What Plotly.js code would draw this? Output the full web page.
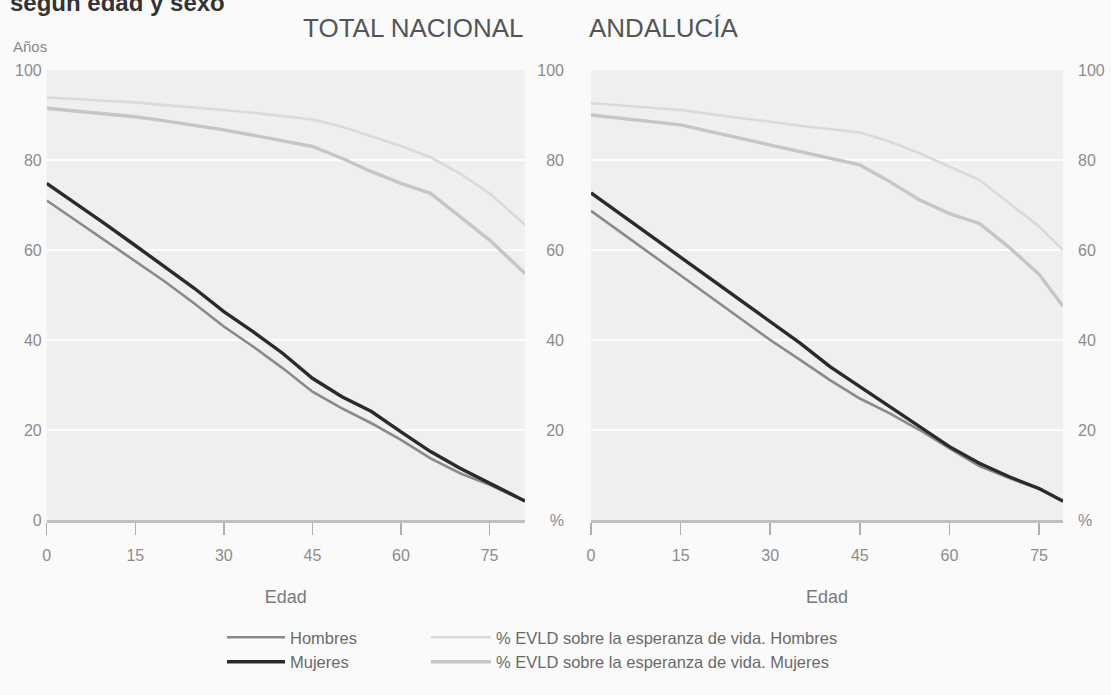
<!DOCTYPE html>
<html>
<head>
<meta charset="utf-8">
<script src="https://cdn.plot.ly/plotly-3.0.1.min.js"></script>
<style>html,body{margin:0;padding:0;background:#fafafa;}#chart{width:1111px;height:695px;}</style>
</head>
<body>
<div id="chart"></div>
<script>
// Ages (x values)
const agesNac = [0,5,10,15,20,25,30,35,40,45,50,55,60,65,70,75,81];
const agesAnd = [0,5,10,15,20,25,30,35,40,45,50,55,60,65,70,75,79];

// TOTAL NACIONAL
const nacHombres    = [71.0,66.5,62.1,57.4,53.0,48.1,43.0,38.5,33.7,28.5,24.8,21.5,17.8,13.7,10.4,7.8,4.2];
const nacMujeres    = [74.8,70.3,65.7,61.0,56.3,51.5,46.3,41.8,37.0,31.5,27.4,24.1,19.6,15.2,11.5,8.1,4.2];
const nacPctHombres = [93.9,93.5,93.2,92.8,92.2,91.7,91.1,90.5,89.8,89.0,87.4,85.2,83.1,80.6,77.0,72.6,65.6];
const nacPctMujeres = [91.5,90.9,90.2,89.6,88.7,87.7,86.7,85.5,84.3,83.0,80.4,77.4,74.8,72.6,67.4,62.2,54.8];

// ANDALUCÍA
const andHombres    = [68.7,63.9,59.0,54.2,49.4,44.6,40.0,35.6,31.1,27.0,23.7,20.0,15.9,12.0,9.3,6.9,4.1];
const andMujeres    = [72.7,67.9,63.1,58.3,53.5,48.7,44.1,39.3,34.1,29.6,25.2,20.7,16.3,12.6,9.6,7.0,4.2];
const andPctHombres = [92.6,92.1,91.6,91.1,90.2,89.4,88.5,87.6,86.8,86.1,84.1,81.5,78.5,75.6,70.4,65.2,60.0];
const andPctMujeres = [90.0,89.3,88.5,87.8,86.3,84.8,83.3,81.8,80.4,78.9,75.2,71.1,68.1,65.9,60.6,54.6,47.5];

// Tick labels
const xTicks = [0,15,30,45,60,75];
const yTicks = [0,20,40,60,80,100];
const yTextLeft = ['0','20','40','60','80','100'];
const yTextPct = ['%','20','40','60','80','100'];

const names = {
  h: 'Hombres',
  m: 'Mujeres',
  ph: '% EVLD sobre la esperanza de vida. Hombres',
  pm: '% EVLD sobre la esperanza de vida. Mujeres'
};

const FONT = '"Liberation Sans", Arial, sans-serif';
const styles = {
  h:  {color:'#8a8a8a', width:2.6},
  m:  {color:'#2a2a2a', width:3.4},
  ph: {color:'#dadada', width:2.6},
  pm: {color:'#c6c6c6', width:3.4}
};

function tr(x, y, key, xa, ya, show, legend) {
  return {
    type:'scatter', mode:'lines', x:x, y:y, name:names[key],
    xaxis:xa, yaxis:ya, line:Object.assign({}, styles[key]),
    legendgroup:key, showlegend:show, legend:legend, hoverinfo:'x+y'
  };
}

const data = [
  tr(agesNac, nacPctHombres, 'ph', 'x', 'y', true, 'legend2'),
  tr(agesNac, nacPctMujeres, 'pm', 'x', 'y', true, 'legend2'),
  tr(agesNac, nacHombres, 'h', 'x', 'y', true, 'legend'),
  tr(agesNac, nacMujeres, 'm', 'x', 'y', true, 'legend'),
  tr(agesAnd, andPctHombres, 'ph', 'x2', 'y3', false, 'legend2'),
  tr(agesAnd, andPctMujeres, 'pm', 'x2', 'y3', false, 'legend2'),
  tr(agesAnd, andHombres, 'h', 'x2', 'y2', false, 'legend'),
  tr(agesAnd, andMujeres, 'm', 'x2', 'y2', false, 'legend')
];

const W = 1111, H = 695;
const yDom = [(H-520)/H, (H-70)/H];
const tickFont = {family:FONT, size:16, color:'#8c8c8c'};

function xaxis(dom, rng, anchor) {
  return {
    domain:dom, range:rng, anchor:anchor, tickvals:xTicks,
    ticks:'outside', ticklen:12, tickwidth:1.5, tickcolor:'#b0b0b0',
    showline:true, linecolor:'#c0c0c0', linewidth:3,
    showgrid:false, zeroline:false, tickfont:tickFont, ticklabelstandoff:7,
    title:{text:'Edad', font:{family:FONT, size:18, color:'#7a7a7a'}, standoff:28},
    fixedrange:true
  };
}
function yaxis(anchor, text, standoff, size) {
  return {
    domain:yDom, range:[0,100], anchor:anchor, tickvals:yTicks, ticktext:text,
    showgrid:true, gridcolor:'#fcfcfc', gridwidth:2, zeroline:false, showline:false,
    ticks:'', tickfont:{family:FONT, size:size, color:'#8c8c8c'}, ticklabelstandoff:standoff, fixedrange:true
  };
}

const legendBase = {yanchor:'top', xanchor:'left', bgcolor:'rgba(0,0,0,0)',
  font:{family:FONT, size:16.5, color:'#6a6a6a'}, traceorder:'grouped', tracegroupgap:0};

const layout = {
  width:W, height:H,
  margin:{l:0, r:0, t:0, b:0},
  paper_bgcolor:'#fafafa', plot_bgcolor:'#efefef',
  font:{family:FONT, color:'#777'},
  xaxis: xaxis([46.7/W, 525/W], [0,81], 'y'),
  yaxis: yaxis('x', yTextLeft, 4, 16),
  xaxis2: xaxis([591/W, 1063/W], [0,79], 'y2'),
  yaxis2: yaxis('x2', yTextPct, 26, 16),
  yaxis3: Object.assign(yaxis('x2', yTextPct, 14, 16), {overlaying:'y2', side:'right', showgrid:false}),
  legend: Object.assign({x:222/W, y:(H-620)/H, itemwidth:58}, legendBase),
  legend2: Object.assign({x:426/W, y:(H-620)/H, itemwidth:60}, legendBase),
  showlegend:true,
  annotations:[
    {text:'<b>según edad y sexo</b>', xref:'paper', yref:'paper', x:8/W, y:1, xanchor:'left', yanchor:'middle', yshift:-2,
     showarrow:false, font:{family:FONT, size:24, color:'#333'}},
    {text:'Años', xref:'paper', yref:'paper', x:11/W, y:(H-46)/H, xanchor:'left', yanchor:'middle',
     showarrow:false, font:{family:FONT, size:15, color:'#888'}},
    {text:'TOTAL NACIONAL', xref:'paper', yref:'paper', x:526/W, y:(H-28)/H, xanchor:'right', yanchor:'middle',
     showarrow:false, font:{family:FONT, size:26, color:'#555'}},
    {text:'ANDALUCÍA', xref:'paper', yref:'paper', x:587/W, y:(H-28)/H, xanchor:'left', yanchor:'middle',
     showarrow:false, font:{family:FONT, size:26, color:'#555'}}
  ]
};

Plotly.newPlot('chart', data, layout, {displayModeBar:false, staticPlot:true});
</script>
</body>
</html>
